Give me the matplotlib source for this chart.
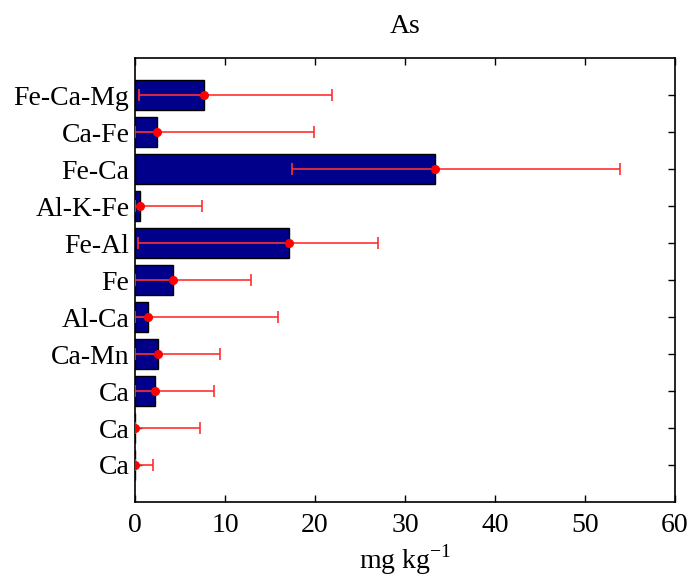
import matplotlib
matplotlib.use("Agg")
import matplotlib.pyplot as plt
import numpy as np

plt.rcParams['font.family'] = ['Liberation Serif', 'DejaVu Serif']
plt.rcParams['mathtext.fontset'] = 'custom'
plt.rcParams['mathtext.rm'] = 'Liberation Serif'

# bottom to top
labels = ["Ca", "Ca", "Ca", "Ca-Mn", "Al-Ca", "Fe", "Fe-Al", "Al-K-Fe", "Fe-Ca", "Ca-Fe", "Fe-Ca-Mg"]
means = [0.0, 0.0, 2.2, 2.6, 1.4, 4.2, 17.1, 0.6, 33.3, 2.4, 7.7]
err_low_end = [0.0, 0.0, 0.0, 0.0, 0.0, 0.0, 0.3, 0.0, 17.4, 0.0, 0.5]
err_high_end = [2.0, 7.2, 8.8, 9.4, 15.9, 12.9, 27.0, 7.5, 53.9, 19.9, 21.9]

fig = plt.figure(figsize=(6.92, 5.81), dpi=100)
ax = fig.add_axes([0.195, 0.136, 0.7805, 0.764])

pos = np.arange(1, len(labels) + 1)
means_a = np.array(means)
lo = means_a - np.array(err_low_end)
hi = np.array(err_high_end) - means_a

ax.barh(pos, means_a, height=0.8, color='#00008B', edgecolor='black', linewidth=1.0, zorder=2)
ax.errorbar(means_a, pos, xerr=[lo, hi], fmt='o', color='red', ecolor='#ff3030',
            markersize=5.5, elinewidth=1.2, capsize=4, capthick=1.2, zorder=3, clip_on=True)

ax.set_xlim(0, 60)
ax.set_ylim(0, 12)
ax.set_yticks(pos)
ax.set_yticklabels(labels)
ax.set_xticks(np.arange(0, 61, 10))
ax.tick_params(axis='both', direction='in', labelsize=20, length=5, width=1,
               top=True, right=True, pad=8)
ax.tick_params(axis='y', pad=4)
for s in ax.spines.values():
    s.set_linewidth(1.2)

ax.set_title("As", fontsize=20, pad=18)
ax.set_xlabel("mg kg$^{\\mathregular{-1}}$", fontsize=20, labelpad=3)

fig.savefig("out.png", dpi=100)
